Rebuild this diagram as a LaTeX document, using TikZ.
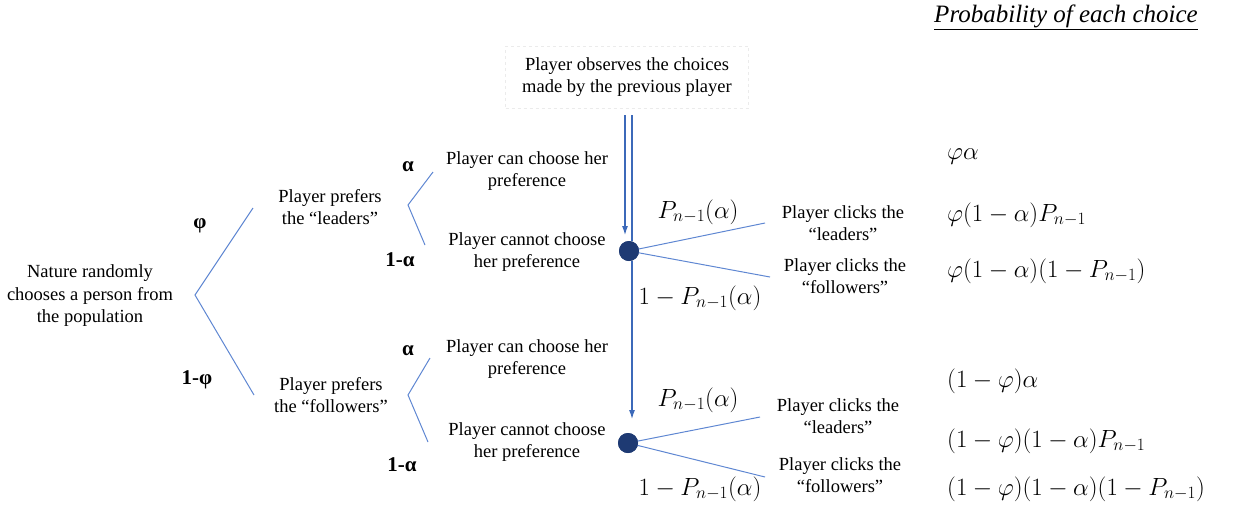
\documentclass[tikz,border=0pt]{standalone}
\usepackage{fontspec}
\setmainfont{Liberation Serif}
\usetikzlibrary{arrows.meta}
\definecolor{lineblue}{RGB}{95,135,210}
\definecolor{arrblue}{RGB}{60,105,185}
\definecolor{dotblue}{RGB}{30,58,115}
\tikzset{
  txt/.style={align=center,inner sep=0pt,font=\fontsize{18.5}{22.5}\selectfont},
  glab/.style={inner sep=0pt,font=\fontsize{21}{24}\selectfont\bfseries},
  mlab/.style={inner sep=0pt,font=\fontsize{23}{26}\selectfont},
  prob/.style={anchor=west,inner sep=0pt,font=\fontsize{24.5}{28}\selectfont},
  branch/.style={draw=lineblue,line width=1pt},
  flow/.style={draw=arrblue,line width=1.1pt},
  flowarr/.style={flow,-{Latex[length=9pt,width=6pt]}},
  chdot/.style={circle,fill=dotblue,minimum size=20pt,inner sep=0pt}
}
\begin{document}
\begin{tikzpicture}[x=1pt,y=-1pt]
\useasboundingbox (0,0) rectangle (1246,515);
% left part
\node[txt] (nature) at (90,296) {Nature randomly\\chooses a person from\\the population};
\coordinate (f0) at (195,295);
\coordinate (f0a) at (253,208);
\coordinate (f0b) at (254,395);
\draw[branch] (f0a) -- (f0) -- (f0b);
\node[glab] (phi) at (200,226) {φ};
\node[glab] (omphi) at (197,380) {1-φ};
\node[txt] (prefL) at (330,207) {Player prefers\\the “leaders”};
\node[txt] (prefF) at (331,395) {Player prefers\\the “followers”};
% upper small fork
\coordinate (f1) at (408,205);
\coordinate (f1a) at (433,172);
\coordinate (f1b) at (425,245);
\draw[branch] (f1a) -- (f1) -- (f1b);
\node[glab] (a1) at (408,167) {α};
\node[glab] (oma1) at (400,260) {1-α};
% lower small fork
\coordinate (f2) at (408,395);
\coordinate (f2a) at (430,358);
\coordinate (f2b) at (428,442);
\draw[branch] (f2a) -- (f2) -- (f2b);
\node[glab] (a2) at (408,351) {α};
\node[glab] (oma2) at (402,465) {1-α};
% middle texts
\node[txt] (canU) at (527,171) {Player can choose her\\preference};
\node[txt] (cannotU) at (527,252) {Player cannot choose\\her preference};
\node[txt] (canL) at (527,359) {Player can choose her\\preference};
\node[txt] (cannotL) at (527,442) {Player cannot choose\\her preference};
% observation box
\node[txt,draw=black!8,dashed,minimum width=243pt,minimum height=62pt] (obs) at (627,77) {Player observes the choices\\made by the previous player};
% dots
\node[chdot] (d1) at (629,251) {};
\node[chdot] (d2) at (628,443) {};
\coordinate (s1) at (625,115);
\coordinate (s2) at (632,115);
\coordinate (t1) at (625,235);
\draw[flowarr] (s1) -- (t1);
\draw[flow] (s2) -- (d1.north -| s2);
\coordinate (t2) at (632,419);
\draw[flowarr] (d1.south -| s2) -- (t2);
% branches from dots
\coordinate (e1) at (765,223);
\coordinate (e2) at (770,277);
\coordinate (e3) at (760,417);
\coordinate (e4) at (765,477);
\draw[branch] (d1.center) -- (e1);
\draw[branch] (d1.center) -- (e2);
\draw[branch] (d2.center) -- (e3);
\draw[branch] (d2.center) -- (e4);
\node[chdot] at (d1) {};
\node[chdot] at (d2) {};
% branch labels
\node[mlab] (p1) at (698,212) {$P_{n-1}(\alpha)$};
\node[mlab] (q1) at (700,298) {$1-P_{n-1}(\alpha)$};
\node[mlab] (p2) at (698,400) {$P_{n-1}(\alpha)$};
\node[mlab] (q2) at (700,489) {$1-P_{n-1}(\alpha)$};
% click texts
\node[txt] (cl1) at (843,223) {Player clicks the\\“leaders”};
\node[txt] (cf1) at (845,276) {Player clicks the\\“followers”};
\node[txt] (cl2) at (838,416) {Player clicks the\\“leaders”};
\node[txt] (cf2) at (840,475) {Player clicks the\\“followers”};
% probability column
\node[inner sep=0pt,font=\fontsize{25}{29}\selectfont\itshape] (title) at (1066,17) {\underline{Probability of each choice}};
\node[prob] (r1) at (947,157) {$\varphi\alpha$};
\node[prob] (r2) at (947,215) {$\varphi(1-\alpha)P_{n-1}$};
\node[prob] (r3) at (947,271) {$\varphi(1-\alpha)(1-P_{n-1})$};
\node[prob] (r4) at (947,381) {$(1-\varphi)\alpha$};
\node[prob] (r5) at (947,441) {$(1-\varphi)(1-\alpha)P_{n-1}$};
\node[prob] (r6) at (947,489) {$(1-\varphi)(1-\alpha)(1-P_{n-1})$};
\end{tikzpicture}
\end{document}
